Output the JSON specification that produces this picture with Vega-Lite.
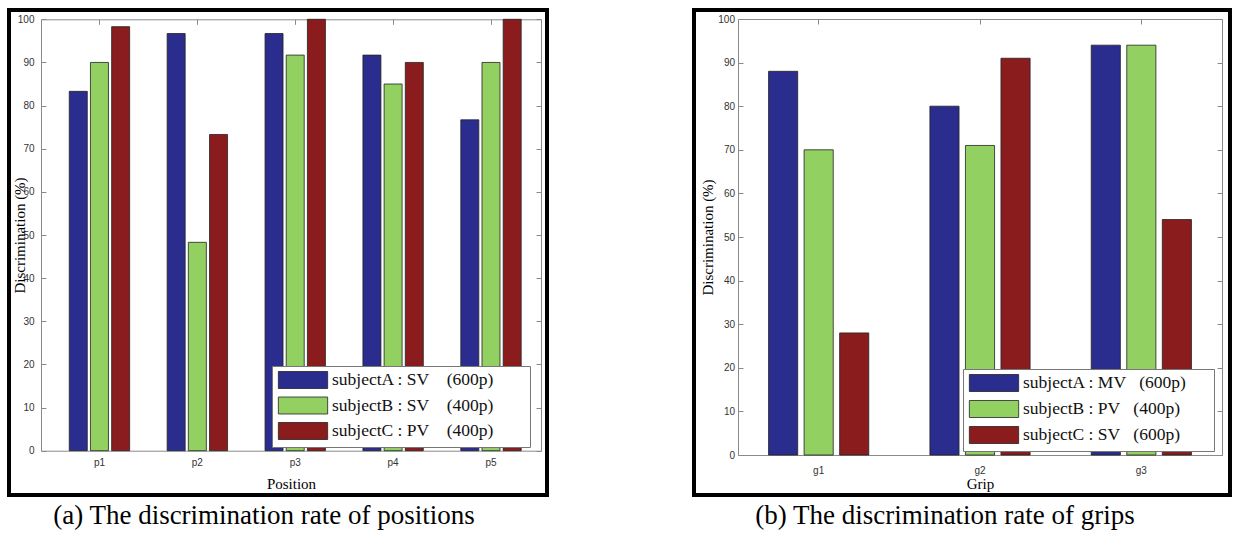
{
  "$schema": "https://vega.github.io/schema/vega-lite/v6.json",
  "padding": {"left": 7, "top": 8, "right": 0, "bottom": 0},
  "background": "white",
  "datasets": {
    "pos": [
      {"pos": "p1", "subject": "subjectA : SV\u00a0\u00a0\u00a0\u00a0(600p)\u00a0\u00a0\u00a0\u00a0\u2800", "v": 83.3},
      {"pos": "p1", "subject": "subjectB : SV\u00a0\u00a0\u00a0\u00a0(400p)\u00a0\u00a0\u00a0\u00a0\u2800", "v": 90},
      {"pos": "p1", "subject": "subjectC : PV\u00a0\u00a0\u00a0\u00a0(400p)\u00a0\u00a0\u00a0\u00a0\u2800", "v": 98.3},
      {"pos": "p2", "subject": "subjectA : SV\u00a0\u00a0\u00a0\u00a0(600p)\u00a0\u00a0\u00a0\u00a0\u2800", "v": 96.7},
      {"pos": "p2", "subject": "subjectB : SV\u00a0\u00a0\u00a0\u00a0(400p)\u00a0\u00a0\u00a0\u00a0\u2800", "v": 48.3},
      {"pos": "p2", "subject": "subjectC : PV\u00a0\u00a0\u00a0\u00a0(400p)\u00a0\u00a0\u00a0\u00a0\u2800", "v": 73.3},
      {"pos": "p3", "subject": "subjectA : SV\u00a0\u00a0\u00a0\u00a0(600p)\u00a0\u00a0\u00a0\u00a0\u2800", "v": 96.7},
      {"pos": "p3", "subject": "subjectB : SV\u00a0\u00a0\u00a0\u00a0(400p)\u00a0\u00a0\u00a0\u00a0\u2800", "v": 91.7},
      {"pos": "p3", "subject": "subjectC : PV\u00a0\u00a0\u00a0\u00a0(400p)\u00a0\u00a0\u00a0\u00a0\u2800", "v": 100},
      {"pos": "p4", "subject": "subjectA : SV\u00a0\u00a0\u00a0\u00a0(600p)\u00a0\u00a0\u00a0\u00a0\u2800", "v": 91.7},
      {"pos": "p4", "subject": "subjectB : SV\u00a0\u00a0\u00a0\u00a0(400p)\u00a0\u00a0\u00a0\u00a0\u2800", "v": 85},
      {"pos": "p4", "subject": "subjectC : PV\u00a0\u00a0\u00a0\u00a0(400p)\u00a0\u00a0\u00a0\u00a0\u2800", "v": 90},
      {"pos": "p5", "subject": "subjectA : SV\u00a0\u00a0\u00a0\u00a0(600p)\u00a0\u00a0\u00a0\u00a0\u2800", "v": 76.7},
      {"pos": "p5", "subject": "subjectB : SV\u00a0\u00a0\u00a0\u00a0(400p)\u00a0\u00a0\u00a0\u00a0\u2800", "v": 90},
      {"pos": "p5", "subject": "subjectC : PV\u00a0\u00a0\u00a0\u00a0(400p)\u00a0\u00a0\u00a0\u00a0\u2800", "v": 100}
    ],
    "grip": [
      {"grip": "g1", "subject": "subjectA : MV\u00a0\u00a0\u00a0(600p)\u00a0\u00a0\u2800", "v": 88},
      {"grip": "g1", "subject": "subjectB : PV\u00a0\u00a0\u00a0(400p)\u00a0\u00a0\u2800", "v": 70},
      {"grip": "g1", "subject": "subjectC : SV\u00a0\u00a0\u00a0(600p)\u00a0\u00a0\u2800", "v": 28},
      {"grip": "g2", "subject": "subjectA : MV\u00a0\u00a0\u00a0(600p)\u00a0\u00a0\u2800", "v": 80},
      {"grip": "g2", "subject": "subjectB : PV\u00a0\u00a0\u00a0(400p)\u00a0\u00a0\u2800", "v": 71},
      {"grip": "g2", "subject": "subjectC : SV\u00a0\u00a0\u00a0(600p)\u00a0\u00a0\u2800", "v": 91},
      {"grip": "g3", "subject": "subjectA : MV\u00a0\u00a0\u00a0(600p)\u00a0\u00a0\u2800", "v": 94},
      {"grip": "g3", "subject": "subjectB : PV\u00a0\u00a0\u00a0(400p)\u00a0\u00a0\u2800", "v": 94},
      {"grip": "g3", "subject": "subjectC : SV\u00a0\u00a0\u00a0(600p)\u00a0\u00a0\u2800", "v": 54}
    ]
  },
  "spacing": 143,
  "resolve": {
    "scale": {"color": "independent", "xOffset": "independent", "x": "independent", "y": "independent"},
    "legend": {"color": "independent"}
  },
  "hconcat": [
    {
      "width": 538,
      "height": 485,
      "data": {"name": "pos"},
      "title": {"text": "(a) The discrimination rate of positions", "dx": -14, "offset": 8},
      "layer": [
        {
          "mark": {"type": "bar"},
          "encoding": {
            "x": {
              "field": "pos", "type": "nominal",
              "scale": {"type": "band", "range": [32, 532], "paddingInner": 0, "paddingOuter": 0.054, "align": 0.9},
              "axis": {"orient": "bottom", "offset": -44.3, "labelAngle": 0, "labelPadding": 12, "title": "Position", "titleY": 32.3, "titleBaseline": "middle"}
            },
            "xOffset": {"field": "subject", "type": "nominal", "scale": {"paddingInner": 0.15, "paddingOuter": 0.885}},
            "y": {
              "field": "v", "type": "quantitative", "stack": null,
              "scale": {"domain": [0, 100], "range": [440.7, 9.3], "nice": false},
              "axis": {"orient": "left", "offset": -32, "values": [0, 10, 20, 30, 40, 50, 60, 70, 80, 90, 100], "labelPadding": 12, "title": "Discrimination (%)", "titleX": -22, "titleY": 225, "titleBaseline": "middle", "titleAngle": -90, "titleAlign": "center"}
            },
            "color": {
              "field": "subject", "type": "nominal",
              "scale": {"range": ["#2a2d8e", "#93d062", "#8b1c1e"]},
              "legend": {
                "title": null, "orient": "none", "legendX": 263, "legendY": 356, "direction": "vertical",
                "fillColor": "white", "strokeColor": "#777", "padding": 5,
                "symbolType": "M-2.9,-1H2.9V1H-2.9Z", "symbolSize": 289, "symbolStrokeColor": "#222", "symbolStrokeWidth": 1, "symbolOpacity": 1,
                "labelFont": "Liberation Serif", "labelFontSize": 17.5, "labelColor": "#111", "labelLimit": 400,
                "rowPadding": 3.5, "labelOffset": 20, "symbolOffset": 17
              }
            }
          }
        },
        {
          "mark": {"type": "bar", "opacity": 0},
          "encoding": {
            "x": {"field": "pos", "type": "nominal", "axis": {"orient": "top", "offset": -9.3, "labels": false, "title": null}},
            "y": {"field": "v", "type": "quantitative", "stack": null, "axis": {"orient": "right", "offset": -6, "labels": false, "title": null, "values": [0, 10, 20, 30, 40, 50, 60, 70, 80, 90, 100]}}
          }
        }
      ],
      "resolve": {"axis": {"x": "independent", "y": "independent"}}
    },
    {
      "width": 536,
      "height": 485,
      "data": {"name": "grip"},
      "title": {"text": "(b) The discrimination rate of grips", "dx": -17, "offset": 8},
      "layer": [
        {
          "mark": {"type": "bar"},
          "encoding": {
            "x": {
              "field": "grip", "type": "nominal",
              "scale": {"type": "band", "range": [44, 528], "paddingInner": 0, "paddingOuter": 0},
              "axis": {"orient": "bottom", "offset": -40, "labelAngle": 0, "labelPadding": 15, "title": "Grip", "titleY": 28, "titleBaseline": "middle"}
            },
            "xOffset": {"field": "subject", "type": "nominal", "scale": {"paddingInner": 0.18, "paddingOuter": 0.86}},
            "y": {
              "field": "v", "type": "quantitative", "stack": null,
              "scale": {"domain": [0, 100], "range": [445, 9], "nice": false},
              "axis": {"orient": "left", "offset": -44, "values": [0, 10, 20, 30, 40, 50, 60, 70, 80, 90, 100], "labelPadding": 8.5, "title": "Discrimination (%)", "titleX": -31, "titleY": 227, "titleBaseline": "middle", "titleAngle": -90, "titleAlign": "center"}
            },
            "color": {
              "field": "subject", "type": "nominal",
              "scale": {"range": ["#2a2d8e", "#93d062", "#8b1c1e"]},
              "legend": {
                "title": null, "orient": "none", "legendX": 269, "legendY": 359, "direction": "vertical",
                "fillColor": "white", "strokeColor": "#777", "padding": 5,
                "symbolType": "M-2.9,-1H2.9V1H-2.9Z", "symbolSize": 289, "symbolStrokeColor": "#222", "symbolStrokeWidth": 1, "symbolOpacity": 1,
                "labelFont": "Liberation Serif", "labelFontSize": 17.5, "labelColor": "#111", "labelLimit": 400,
                "rowPadding": 4, "labelOffset": 20, "symbolOffset": 17
              }
            }
          }
        },
        {
          "mark": {"type": "bar", "opacity": 0},
          "encoding": {
            "x": {"field": "grip", "type": "nominal", "axis": {"orient": "top", "offset": -9, "labels": false, "title": null}},
            "y": {"field": "v", "type": "quantitative", "stack": null, "axis": {"orient": "right", "offset": -8, "labels": false, "title": null, "values": [0, 10, 20, 30, 40, 50, 60, 70, 80, 90, 100]}}
          }
        }
      ],
      "resolve": {"axis": {"x": "independent", "y": "independent"}}
    }
  ],
  "config": {
    "view": {"stroke": "#000", "strokeWidth": 4},
    "font": "Liberation Serif",
    "title": {"font": "Liberation Serif", "fontSize": 27, "fontWeight": "normal", "orient": "bottom", "color": "#000"},
    "axis": {
      "labelFont": "Liberation Sans", "labelFontSize": 10, "labelColor": "#333",
      "domainColor": "#8a8a8a", "tickColor": "#8a8a8a", "tickSize": -5, "grid": false,
      "titleFont": "Liberation Serif", "titleFontWeight": "normal", "titleColor": "#000", "titleFontSize": 15
    },
    "bar": {"stroke": "#222", "strokeWidth": 0.8}
  }
}
